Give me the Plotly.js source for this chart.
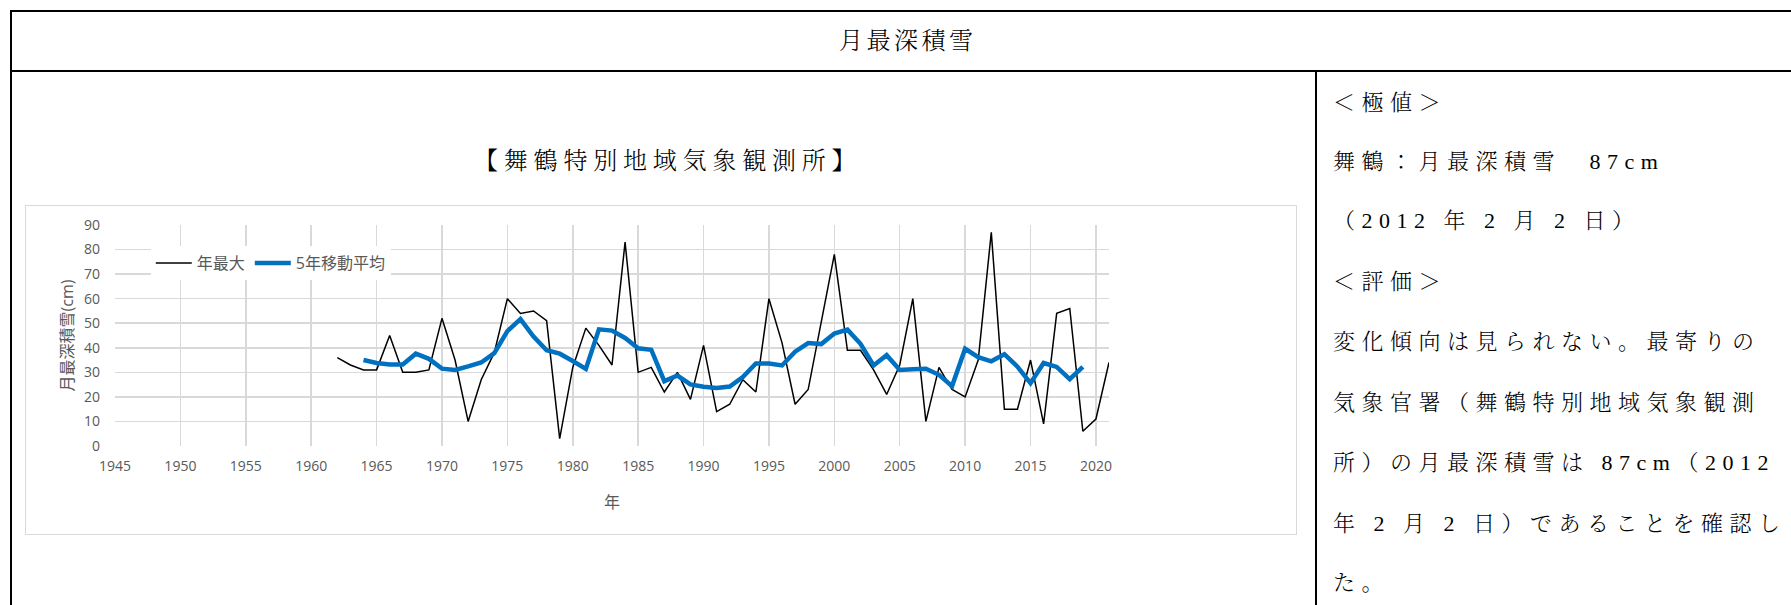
<!DOCTYPE html>
<html>
<head>
<meta charset="utf-8">
<script src="https://cdn.plot.ly/plotly-3.0.1.min.js"></script>
<style>
  html, body { margin:0; padding:0; background:#fff; width:1791px; height:605px; overflow:hidden; }
  .abs { position:absolute; }
  .serif { font-family:"Liberation Serif","Noto Serif CJK JP","Noto Sans CJK JP",serif; font-weight:300; color:#000; white-space:nowrap; }
  .rt { position:absolute; left:1333px; font-size:22px; letter-spacing:6.5px; line-height:30px; }
</style>
</head>
<body>
<!-- table frame -->
<div class="abs" style="left:10px; top:10px; width:1800px; height:1.5px; background:#000;"></div>
<div class="abs" style="left:10px; top:10px; width:1.5px; height:600px; background:#000;"></div>
<div class="abs" style="left:10px; top:70px; width:1800px; height:2px; background:#000;"></div>
<div class="abs" style="left:1315px; top:71px; width:1.5px; height:540px; background:#000;"></div>

<div class="abs serif" style="left:839px; top:26px; font-size:24px; letter-spacing:3.5px; line-height:30px;">月最深積雪</div>
<div class="abs serif" style="left:474px; top:146px; font-size:24px; letter-spacing:5.8px; line-height:30px;">【舞鶴特別地域気象観測所】</div>

<div id="txt"></div>

<div class="abs" style="left:25px; top:205px; border:1.5px solid #d9d9d9; width:1270px; height:328px;">
  <div id="chart" style="width:1270px; height:328px;"></div>
</div>

<script>
// ---- data ----
const years = [1962,1963,1964,1965,1966,1967,1968,1969,1970,1971,1972,1973,1974,1975,1976,1977,1978,1979,1980,1981,1982,1983,1984,1985,1986,1987,1988,1989,1990,1991,1992,1993,1994,1995,1996,1997,1998,1999,2000,2001,2002,2003,2004,2005,2006,2007,2008,2009,2010,2011,2012,2013,2014,2015,2016,2017,2018,2019,2020,2021];
const annualMax = [36,33,31,31,45,30,30,31,52,35,10,27,38,60,54,55,51,3,32,48,41,33,83,30,32,22,30,19,41,14,17,27,22,60,42,17,23,50,78,39,39,31,21,33,60,10,32,23,20,35,87,15,15,35,9,54,56,6,11,34];
const maYears = [1964,1965,1966,1967,1968,1969,1970,1971,1972,1973,1974,1975,1976,1977,1978,1979,1980,1981,1982,1983,1984,1985,1986,1987,1988,1989,1990,1991,1992,1993,1994,1995,1996,1997,1998,1999,2000,2001,2002,2003,2004,2005,2006,2007,2008,2009,2010,2011,2012,2013,2014,2015,2016,2017,2018,2019];
const movingAvg5 = [35.0,33.8,33.2,33.2,37.6,35.5,31.5,31.0,32.4,34.0,37.8,46.8,51.7,44.6,39.0,37.6,34.6,31.4,47.5,47.0,44.0,39.8,39.2,26.4,28.7,25.1,24.1,23.6,24.2,28.1,33.6,33.6,32.8,38.4,41.9,41.5,45.8,47.4,41.6,32.8,37.0,31.0,31.3,31.5,29.0,24.4,39.6,36.2,34.5,37.4,32.3,25.6,33.8,32.2,27.2,32.2];
const seriesNames = ["年最大","5年移動平均"];
const xTicks = [1945,1950,1955,1960,1965,1970,1975,1980,1985,1990,1995,2000,2005,2010,2015,2020];
const yTicks = [0,10,20,30,40,50,60,70,80,90];
const rightLines = [
  "＜極値＞",
  "舞鶴：月最深積雪　87cm",
  "（2012 年 2 月 2 日）",
  "＜評価＞",
  "変化傾向は見られない。最寄りの",
  "気象官署（舞鶴特別地域気象観測",
  "所）の月最深積雪は 87cm（2012",
  "年 2 月 2 日）であることを確認し",
  "た。"
];

// right column text
const tops = [88,147,206,267,327,388,448,509,568];
const txt = document.getElementById('txt');
rightLines.forEach((s,i)=>{
  const d = document.createElement('div');
  d.className = 'rt serif';
  d.style.top = tops[i] + 'px';
  d.textContent = s;
  txt.appendChild(d);
});

const gray = '#595959';
const grid = '#d9d9d9';
const fam = '"Open Sans","Noto Sans CJK JP",sans-serif';

const traces = [
  {x: years, y: annualMax, type:'scatter', mode:'lines', name: seriesNames[0],
   line:{color:'#000000', width:1.5}},
  {x: maYears, y: movingAvg5, type:'scatter', mode:'lines', name: seriesNames[1],
   line:{color:'#0070C0', width:4.5}}
];

const layout = {
  width:1270, height:328,
  margin:{l:89, r:187, t:18.5, b:88},
  paper_bgcolor:'#ffffff', plot_bgcolor:'#ffffff',
  font:{family:fam, size:14, color:gray},
  showlegend:true,
  legend:{orientation:'h', x:0.036, xanchor:'left', y:0.828, yanchor:'middle',
          bgcolor:'#ffffff', borderwidth:0, font:{size:16, color:gray, family:fam},
          itemwidth:36, traceorder:'normal'},
  xaxis:{range:[1945,2021], tickvals:xTicks, ticktext:xTicks.map(String),
         showgrid:true, gridcolor:grid, gridwidth:1.5, zeroline:false,
         showline:false, ticks:'', ticklabelstandoff:10,
         tickfont:{size:14, color:gray},
         title:{text:'年', font:{size:16, color:gray}, standoff:22}},
  yaxis:{range:[0,90], tickvals:yTicks, ticktext:yTicks.map(String),
         showgrid:true, gridcolor:grid, gridwidth:1.5, zeroline:false,
         showline:false, ticks:'', ticklabelstandoff:14,
         tickfont:{size:14, color:gray},
         title:{text:'月最深積雪(cm)', font:{size:16, color:gray}, standoff:6}}
};

Plotly.newPlot('chart', traces, layout, {displayModeBar:false, staticPlot:true});
</script>
</body>
</html>
